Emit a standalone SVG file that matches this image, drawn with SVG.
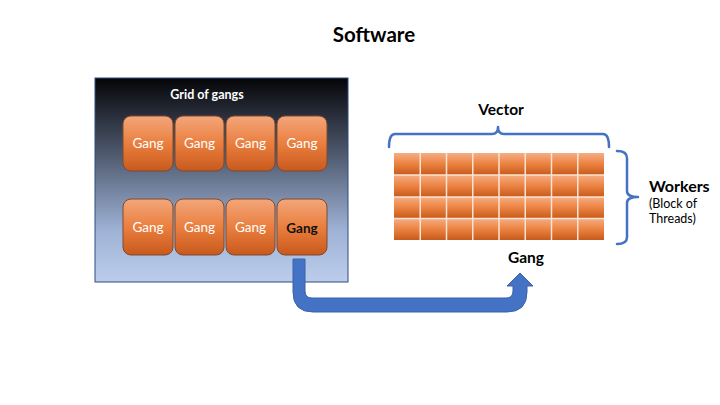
<svg xmlns="http://www.w3.org/2000/svg" width="720" height="405" viewBox="0 0 720 405">
<defs>
<linearGradient id="bg" x1="0" y1="0" x2="0" y2="1">
<stop offset="0" stop-color="#050508"/>
<stop offset="0.35" stop-color="#4a5468"/>
<stop offset="0.75" stop-color="#9fb3d6"/>
<stop offset="1" stop-color="#bccdeb"/>
</linearGradient>
<linearGradient id="og" x1="0" y1="0" x2="0" y2="1">
<stop offset="0" stop-color="#f3a67c"/>
<stop offset="0.5" stop-color="#ea7f3e"/>
<stop offset="1" stop-color="#c8591d"/>
</linearGradient>
<linearGradient id="cg" x1="0" y1="0" x2="0" y2="1">
<stop offset="0" stop-color="#f5ad84"/>
<stop offset="0.5" stop-color="#ec8240"/>
<stop offset="1" stop-color="#c55a1c"/>
</linearGradient>
</defs>
<style>
.t{font-family:Lato,"Open Sans","Liberation Sans",sans-serif}
.b{font-weight:bold}
.gang rect{fill:url(#og);stroke:#7d4a30;stroke-width:1}
.gang text{fill:#fff;font-size:13.5px;text-anchor:middle}
.row{fill:url(#cg)}
.grid line{stroke:#fbe3d3;stroke-width:1.5}
.brace{fill:none;stroke:#4472c4;stroke-width:2.5;stroke-linecap:round;stroke-linejoin:round}
</style>
<rect width="720" height="405" fill="#fff"/>
<text class="t b" x="374" y="42" font-size="20.5" text-anchor="middle" fill="#000">Software</text>

<g id="grid-of-gangs">
<rect x="95" y="78" width="253" height="204" fill="url(#bg)" stroke="#2f4d80" stroke-width="1"/>
<text class="t b" x="207" y="99" font-size="12.5" fill="#fff" text-anchor="middle">Grid of gangs</text>
</g>

<g id="gang1" class="gang t"><rect x="123" y="116" width="50" height="55" rx="8"/><text x="148" y="148">Gang</text></g>
<g id="gang2" class="gang t"><rect x="175" y="116" width="49" height="55" rx="8"/><text x="199.5" y="148">Gang</text></g>
<g id="gang3" class="gang t"><rect x="226" y="116" width="49" height="55" rx="8"/><text x="250.5" y="148">Gang</text></g>
<g id="gang4" class="gang t"><rect x="277" y="116" width="50" height="55" rx="8"/><text x="302" y="148">Gang</text></g>
<g id="gang5" class="gang t"><rect x="123" y="199" width="50" height="56" rx="8"/><text x="148" y="232">Gang</text></g>
<g id="gang6" class="gang t"><rect x="175" y="199" width="49" height="56" rx="8"/><text x="199.5" y="232">Gang</text></g>
<g id="gang7" class="gang t"><rect x="226" y="199" width="49" height="56" rx="8"/><text x="250.5" y="232">Gang</text></g>
<g id="gang8" class="gang t"><rect x="277" y="199" width="50" height="56" rx="8"/><text x="302" y="233" style="fill:#111;font-weight:bold">Gang</text></g>

<g id="gang-block">
<rect class="row" x="394" y="153" width="210" height="22"/>
<rect class="row" x="394" y="175" width="210" height="22"/>
<rect class="row" x="394" y="197" width="210" height="21.5"/>
<rect class="row" x="394" y="218.5" width="210" height="21.5"/>
<g class="grid">
<line x1="394" y1="175" x2="604" y2="175"/>
<line x1="394" y1="197" x2="604" y2="197"/>
<line x1="394" y1="218.5" x2="604" y2="218.5"/>
<line x1="420.25" y1="153" x2="420.25" y2="240"/>
<line x1="446.5" y1="153" x2="446.5" y2="240"/>
<line x1="472.75" y1="153" x2="472.75" y2="240"/>
<line x1="499" y1="153" x2="499" y2="240"/>
<line x1="525.25" y1="153" x2="525.25" y2="240"/>
<line x1="551.5" y1="153" x2="551.5" y2="240"/>
<line x1="577.75" y1="153" x2="577.75" y2="240"/>
</g>
<text class="t b" x="526" y="263" font-size="15.5" text-anchor="middle" fill="#000">Gang</text>
</g>

<g id="vector">
<path class="brace" d="M389,147 Q389,134 395,134 L492,134 Q498,134 498,127 Q498,134 504,134 L603,134 Q609,134 609,147"/>
<text class="t b" x="501" y="115" font-size="15.5" text-anchor="middle" fill="#000">Vector</text>
</g>

<g id="workers">
<path class="brace" d="M617,151 Q627,151 627,158 L627,191 Q627,197 638,197 Q627,197 627,203 L627,237 Q627,244 617,244"/>
<text class="t b" x="649" y="192" font-size="16" fill="#000">Workers</text>
<text class="t" x="649" y="208" font-size="12.5" fill="#000">(Block of</text>
<text class="t" x="649" y="223" font-size="12.5" fill="#000">Threads)</text>
</g>

<g id="connectors">
<path d="M293,259 L293,292 Q293,312 313,312 L507,312 Q527,312 527,292 L527,286 L533,286 L520,273 L507,286 L513,286 L513,291 Q513,298 506,298 L312,298 Q305,298 305,291 L305,259 Z" fill="#4472c4" stroke="#3a62ad" stroke-width="1"/>
</g>
</svg>
